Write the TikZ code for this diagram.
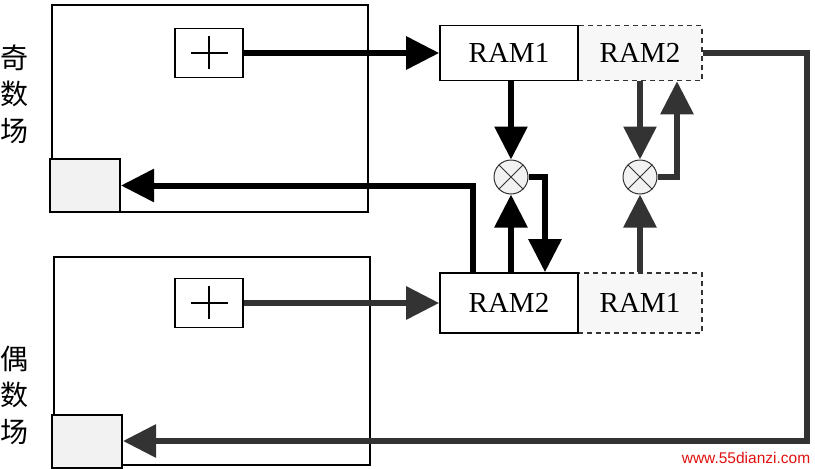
\documentclass[tikz,border=0pt]{standalone}
\usepackage{fontspec}
\setmainfont{Liberation Serif}
\newfontfamily\cjk{Noto Sans CJK SC}
\newfontfamily\wmfont{Liberation Sans}
\usetikzlibrary{arrows.meta}
\definecolor{inkgray}{HTML}{333333}
\definecolor{cellgray}{HTML}{F2F2F2}
\definecolor{wmred}{HTML}{E01010}

\begin{document}
\begin{tikzpicture}[x=1pt, y=-1pt,
	frame/.style={draw, line width=1.5pt, minimum width=316pt, inner sep=0pt},
	adder/.style={draw, line width=1.6pt, fill=white, minimum width=68pt, minimum height=49pt},
	sink/.style={draw, line width=2pt, fill=cellgray, minimum width=70pt, minimum height=53pt},
	ramcell/.style={draw, line width=1.6pt, fill=white, minimum width=138pt, inner sep=0pt, font=\fontsize{29}{30}\selectfont},
	ghostcell/.style={draw=inkgray, dash pattern=on 5pt off 4pt, line width=1.5pt, fill=cellgray!60, minimum width=124pt, inner sep=0pt, font=\fontsize{29}{30}\selectfont},
	mixer/.style={circle, draw=inkgray, line width=1pt, fill=cellgray, minimum size=34pt, inner sep=0pt},
	fieldtag/.style={font=\cjk\fontsize{28}{36.5}\selectfont, align=center, inner sep=0pt},
	flow/.style={line width=6pt, -{Triangle[length=33pt,width=32pt]}},
	flowgray/.style={flow, inkgray}]
	\useasboundingbox (0,0) rectangle (815,469);
		\node[frame, minimum height=207pt] (oddframe) at (210,108.5) {};
		\node[frame, minimum height=208pt] (evenframe) at (212,361) {};
		\node[fieldtag] (oddtag) at (15,94) {奇\\数\\场};
		\node[fieldtag] (eventag) at (15,395) {偶\\数\\场};
		\node[adder] (addodd) at (209,53) {};
		\node[adder] (addeven) at (209,303) {};
		\foreach \a in {addodd,addeven} {
			\draw[line width=1.5pt] ([xshift=-18pt]\a.center) -- ([xshift=19pt]\a.center);
			\draw[line width=1.5pt] ([yshift=-16pt]\a.center) -- ([yshift=17pt]\a.center);
		}
		\node[sink] (outodd) at (85,185.5) {};
		\node[sink] (outeven) at (87,441) {};
		\node[ghostcell, minimum height=55pt] (ramoddB) at (640,53) {RAM2};
		\node[ghostcell, minimum height=60pt] (ramevenA) at (640,303) {RAM1};
		\node[ramcell, minimum height=55pt] (ramoddA) at (509,53) {RAM1};
		\node[ramcell, minimum height=60pt] (ramevenB) at (509,303) {RAM2};
		\node[mixer] (mixA) at (511,177) {};
		\node[mixer] (mixB) at (640,177) {};
		\foreach \m in {mixA,mixB} {
			\draw[inkgray, line width=0.8pt] (\m.45) -- (\m.225);
			\draw[inkgray, line width=0.8pt] (\m.135) -- (\m.315);
		}
		\coordinate (turn) at (807,441);
		\draw[flow] (addodd) -- (ramoddA);
		\draw[flow] (mixA |- ramoddA.south) -- (mixA.north);
		\draw[flow] (mixA.east) -| ([xshift=36pt]ramevenB.north);
		\draw[flow] (mixA |- ramevenB.north) -- (mixA.south);
		\draw[flow] ([xshift=-36pt]ramevenB.north) |- (outodd.east);
		\draw[flowgray] (addeven) -- (ramevenB);
		\draw[flowgray] (mixB |- ramoddB.south) -- (mixB.north);
		\draw[flowgray] (mixB.east) -| ([xshift=37pt]ramoddB.south);
		\draw[flowgray] (mixB |- ramevenA.north) -- (mixB.south);
		\draw[flowgray] (ramoddB.east) -| (turn) -- (outeven.east);
		\node[font=\wmfont\fontsize{15.5}{16}\selectfont, text=wmred] (mark) at (746,458) {www.55dianzi.com};
\end{tikzpicture}
\end{document}
